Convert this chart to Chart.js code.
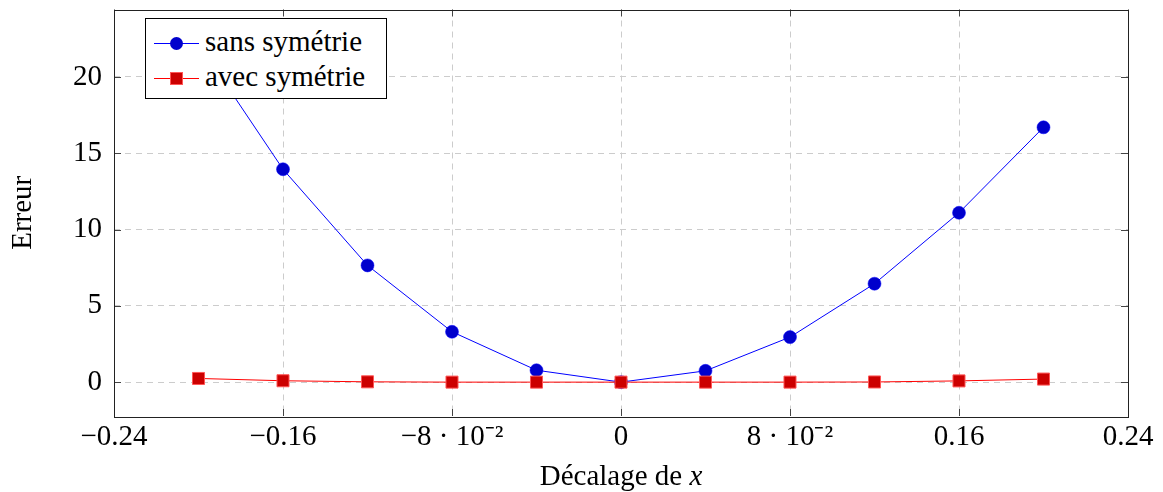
<html>
<head>
<script src="https://cdn.jsdelivr.net/npm/chart.js"></script>
<style>
body { margin:0; background:#fff; }
#wrap { position:relative; width:1163px; height:492px; }
#legend { position:absolute; left:145px; top:18px; width:242px; height:81px; border:1px solid #000; background:#fff;
  font-family:'Liberation Serif', serif; font-size:29px; color:#000; box-sizing:border-box; }
.row { position:absolute; left:0; height:30px; width:100%; }
.row .ln { position:absolute; left:8px; top:14px; width:45px; height:1px; }
.row .mk { position:absolute; }
.row .tx { position:absolute; left:59px; top:-4px; white-space:nowrap; }
</style>
<script>
// data
const xs = [-0.2, -0.16, -0.12, -0.08, -0.04, 0, 0.04, 0.08, 0.12, 0.16, 0.2];
const sansSym = [22.2, 13.95, 7.65, 3.3, 0.78, 0, 0.74, 2.95, 6.45, 11.1, 16.7];
const avecSym = [0.24, 0.09, 0.02, 0.0, 0.0, 0.0, 0.0, 0.0, 0.01, 0.08, 0.2];
const xTicks = [-0.24, -0.16, -0.08, 0, 0.08, 0.16, 0.24];
const xTickLabels = ['\u22120.24', '\u22120.16', '\u22128 \u00b7 10\u207b\u00b2', '0', '8 \u00b7 10\u207b\u00b2', '0.16', '0.24'];
const yTicks = [0, 5, 10, 15, 20];
const seriesNames = ['sans sym\u00e9trie', 'avec sym\u00e9trie'];
</script>
</head>
<body>
<div id="wrap">
  <canvas id="c" width="1163" height="492"></canvas>
  <div id="legend">
    <div class="row" style="top:10px">
      <div class="ln" style="background:#0000ff"></div>
      <div class="mk" style="left:24px;top:8px;width:13px;height:13px;border-radius:50%;background:#0000cc;border:0px"></div>
      <div class="tx" id="l0"></div>
    </div>
    <div class="row" style="top:45px">
      <div class="ln" style="background:#ff0000"></div>
      <div class="mk" style="left:25px;top:9px;width:11px;height:11px;background:#cc0000;outline:1px solid #ff5555"></div>
      <div class="tx" id="l1"></div>
    </div>
  </div>
</div>
<script>
document.getElementById('l0').textContent = seriesNames[0];
document.getElementById('l1').textContent = seriesNames[1];

const FONT = "'Liberation Serif', serif";

const framePlugin = {
  id: 'frame',
  afterDraw(chart) {
    const ctx = chart.ctx, a = chart.chartArea;
    const sx = chart.scales.x, sy = chart.scales.y;
    ctx.save();
    ctx.strokeStyle = '#444';
    ctx.lineWidth = 1;
    // small inner ticks
    ctx.beginPath();
    xTicks.forEach(v => {
      const p = Math.round(sx.getPixelForValue(v)) + 0.5;
      ctx.moveTo(p, a.bottom); ctx.lineTo(p, a.bottom - 7);
      ctx.moveTo(p, a.top); ctx.lineTo(p, a.top + 7);
    });
    yTicks.forEach(v => {
      const p = Math.round(sy.getPixelForValue(v)) + 0.5;
      ctx.moveTo(a.left, p); ctx.lineTo(a.left + 7, p);
      ctx.moveTo(a.right, p); ctx.lineTo(a.right - 7, p);
    });
    ctx.stroke();
    ctx.strokeStyle = '#222';
    ctx.strokeRect(Math.round(a.left) + 0.5, Math.round(a.top) + 0.5, Math.round(a.right - a.left), Math.round(a.bottom - a.top));
    // axis titles
    ctx.fillStyle = '#000';
    ctx.textBaseline = 'middle';
    const t1 = 'D\u00e9calage de ';
    ctx.font = '29px ' + FONT;
    const w1 = ctx.measureText(t1).width;
    ctx.font = 'italic 29px ' + FONT;
    const w2 = ctx.measureText('x').width;
    const cx = (a.left + a.right) / 2;
    let x0 = cx - (w1 + w2) / 2;
    ctx.textAlign = 'left';
    ctx.font = '29px ' + FONT;
    ctx.fillText(t1, x0, 477);
    ctx.font = 'italic 29px ' + FONT;
    ctx.fillText('x', x0 + w1, 477);
    ctx.translate(23, (a.top + a.bottom) / 2);
    ctx.rotate(-Math.PI / 2);
    ctx.textAlign = 'center';
    ctx.font = '29px ' + FONT;
    ctx.fillText('Erreur', 0, 0);
    ctx.restore();
  }
};

new Chart(document.getElementById('c'), {
  type: 'line',
  data: {
    datasets: [
      {
        label: seriesNames[0],
        data: xs.map((x, i) => ({ x: x, y: sansSym[i] })),
        borderColor: '#0000ff',
        borderWidth: 1,
        backgroundColor: '#0000cc',
        pointBackgroundColor: '#0000cc',
        pointBorderColor: '#0000ff',
        pointBorderWidth: 0.5,
        pointRadius: 6.5,
        pointStyle: 'circle',
        tension: 0,
        order: 1
      },
      {
        label: seriesNames[1],
        data: xs.map((x, i) => ({ x: x, y: avecSym[i] })),
        borderColor: '#ff0000',
        borderWidth: 1,
        backgroundColor: '#cc0000',
        pointBackgroundColor: '#cc0000',
        pointBorderColor: '#ff5555',
        pointBorderWidth: 1,
        pointRadius: 8.5,
        pointStyle: 'rect',
        tension: 0,
        order: 0
      }
    ]
  },
  options: {
    responsive: false,
    animation: false,
    clip: false,
    layout: { padding: { top: 7, right: 35, left: 0, bottom: 0 } },
    plugins: { legend: { display: false }, tooltip: { enabled: false } },
    scales: {
      x: {
        type: 'linear',
        min: -0.24, max: 0.24,
        afterBuildTicks: s => { s.ticks = xTicks.map(v => ({ value: v })); },
        afterFit: s => { s.height = 76; s.paddingLeft = 0; s.paddingRight = 0; },
        ticks: {
          font: { family: FONT, size: 29 }, color: '#000', padding: 4, maxRotation: 0,
          callback: (v) => { const i = xTicks.findIndex(t => Math.abs(t - v) < 1e-9); return i >= 0 ? xTickLabels[i] : ''; }
        },
        grid: { color: '#cccccc', lineWidth: 1, drawTicks: false, tickLength: 0 },
        border: { display: false, dash: [6, 5] }
      },
      y: {
        min: -2.22, max: 24.42,
        afterBuildTicks: s => { s.ticks = yTicks.map(v => ({ value: v })); },
        afterFit: s => { s.width = 114; s.paddingTop = 0; s.paddingBottom = 0; },
        ticks: { font: { family: FONT, size: 29 }, color: '#000', padding: 12 },
        grid: { color: '#cccccc', lineWidth: 1, drawTicks: false, tickLength: 0 },
        border: { display: false, dash: [6, 5] }
      }
    }
  },
  plugins: [framePlugin]
});
</script>
</body>
</html>
